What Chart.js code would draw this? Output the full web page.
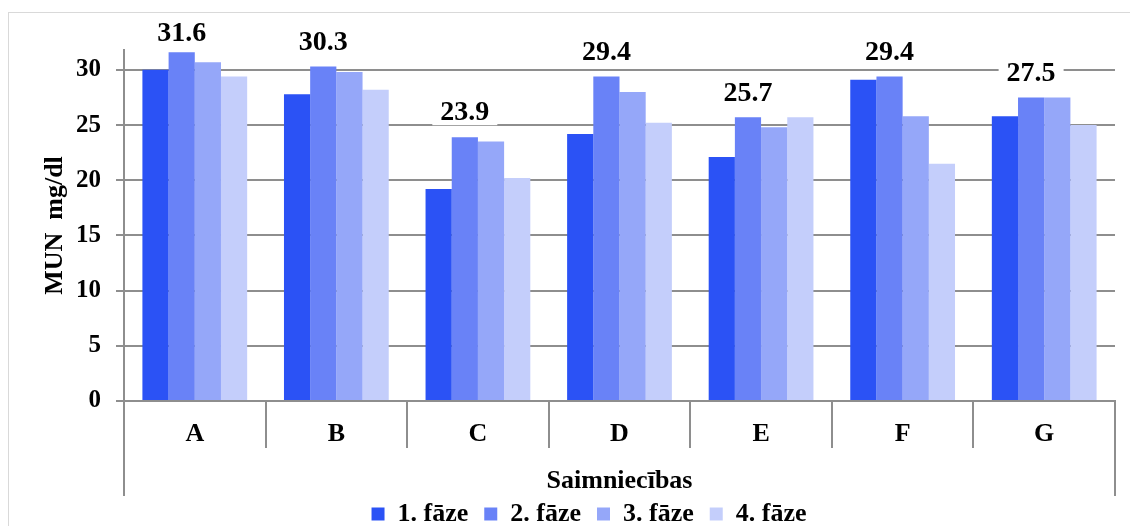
<!DOCTYPE html>
<html>
<head>
<meta charset="utf-8">
<script src="https://cdn.jsdelivr.net/npm/chart.js@4.4.0/dist/chart.umd.min.js"></script>
<style>
    html, body { margin: 0; padding: 0; background: #fff; overflow: hidden; }
    .wrap { position: relative; width: 1130px; height: 526px; overflow: hidden; }
    .frame { position: absolute; left: 8px; top: 12px; width: 1200px; height: 600px; border: 1px solid #d9d9d9; }
    canvas { position: absolute; left: 0; top: 0; }
</style>
</head>
<body>
<div class="wrap">
    <div class="frame"></div>
    <canvas id="munChart" width="1130" height="526" style="width:1130px;height:526px"></canvas>
</div>
<script>
const farms = ['A', 'B', 'C', 'D', 'E', 'F', 'G'];
const phaseNames = ['1. fāze', '2. fāze', '3. fāze', '4. fāze'];
const phase1 = [30.0, 27.8, 19.2, 24.2, 22.1, 29.1, 25.8];
const phase2 = [31.6, 30.3, 23.9, 29.4, 25.7, 29.4, 27.5];
const phase3 = [30.7, 29.8, 23.5, 28.0, 24.8, 25.8, 27.5];
const phase4 = [29.4, 28.2, 20.2, 25.2, 25.7, 21.5, 25.0];
const yTicks = [0, 5, 10, 15, 20, 25, 30];

const phaseColors = ['#2b52f5', '#6982f7', '#95a7f9', '#c4cefb'];
const axisColor = '#8e8e8e';
const fontFamily = '"Liberation Serif", "Times New Roman", serif';

// vertical separators under the category axis (Excel style box)
const categorySeparators = {
    id: 'categorySeparators',
    afterDraw(chart) {
        const xs = chart.scales.x;
        const ctx = chart.ctx;
        const n = xs.ticks.length;
        const step = xs.width / n;
        ctx.save();
        ctx.strokeStyle = axisColor;
        ctx.lineWidth = 2;
        for (let i = 0; i <= n; i++) {
            const px = Math.round(xs.left + i * step);
            const end = (i === 0 || i === n) ? xs.bottom + 11 : xs.top + 47;
            ctx.beginPath();
            ctx.moveTo(px, xs.top);
            ctx.lineTo(px, end);
            ctx.stroke();
        }
        ctx.restore();
    }
};

// value labels above the 2. fāze bars
const phaseLabels = {
    id: 'phaseLabels',
    afterDatasetsDraw(chart) {
        const meta = chart.getDatasetMeta(1);
        const ctx = chart.ctx;
        ctx.save();
        ctx.font = 'bold 28px ' + fontFamily;
        ctx.textAlign = 'center';
        ctx.textBaseline = 'middle';
        meta.data.forEach((bar, i) => {
            const txt = phase2[i].toFixed(1);
            const w = ctx.measureText(txt).width + 16;
            const y = Math.max(bar.y - 25, chart.chartArea.top - 17);
            ctx.fillStyle = '#fff';
            ctx.fillRect(bar.x - w / 2, y - 13, w, 26);
            ctx.fillStyle = '#000';
            ctx.fillText(txt, bar.x, y + 1);
        });
        ctx.restore();
    }
};

new Chart(document.getElementById('munChart').getContext('2d'), {
    type: 'bar',
    data: {
        labels: farms,
        datasets: [phase1, phase2, phase3, phase4].map((values, i) => ({
            label: phaseNames[i],
            data: values,
            backgroundColor: phaseColors[i],
            borderWidth: 0,
            categoryPercentage: 0.74,
            barPercentage: 1.0
        }))
    },
    options: {
        responsive: false,
        animation: false,
        layout: {
            padding: { left: 63, right: 15, top: 50, bottom: -11 }
        },
        plugins: {
            legend: {
                position: 'bottom',
                labels: {
                    color: '#000',
                    boxWidth: 13,
                    boxHeight: 13,
                    padding: 16,
                    font: { family: fontFamily, size: 26, weight: 'bold', lineHeight: 1 }
                }
            },
            tooltip: { enabled: false }
        },
        scales: {
            x: {
                grid: { display: false, drawTicks: false },
                border: { display: true, color: axisColor, width: 2 },
                ticks: {
                    color: '#000',
                    padding: 18,
                    font: { family: fontFamily, size: 26, weight: 'bold', lineHeight: 1.2 }
                },
                title: {
                    display: true,
                    text: 'Saimniecības',
                    color: '#000',
                    padding: { top: 0, bottom: -9 },
                    font: { family: fontFamily, size: 26, weight: 'bold', lineHeight: 1 }
                },
                afterFit: scale => { scale.height = 84; }
            },
            y: {
                min: 0,
                max: 31.8,
                afterBuildTicks: scale => { scale.ticks = yTicks.map(v => ({ value: v })); },
                grid: { color: axisColor, lineWidth: 2, tickLength: 8 },
                border: { display: true, color: axisColor, width: 2 },
                ticks: {
                    color: '#000',
                    padding: 15,
                    font: { family: fontFamily, size: 25, weight: 'bold' }
                },
                title: {
                    display: true,
                    text: 'MUN  mg/dl',
                    color: '#000',
                    padding: { top: -21, bottom: 0 },
                    font: { family: fontFamily, size: 26, weight: 'bold', lineHeight: 1 }
                },
                afterFit: scale => { scale.width = 61; }
            }
        }
    },
    plugins: [categorySeparators, phaseLabels]
});
</script>
</body>
</html>
